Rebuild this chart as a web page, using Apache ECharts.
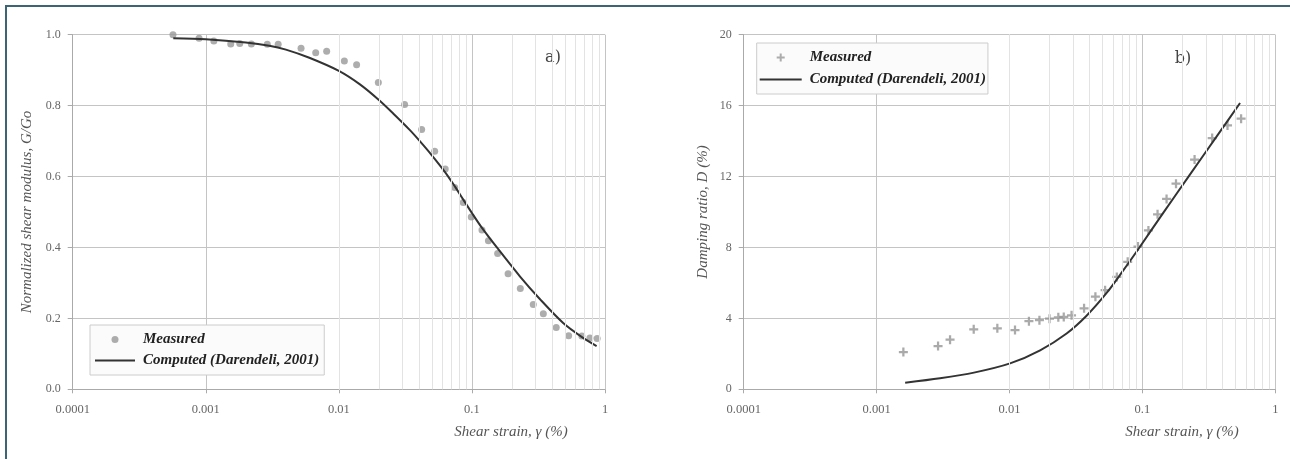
<!DOCTYPE html>
<html><head><meta charset="utf-8">
<script src="https://cdn.jsdelivr.net/npm/echarts@6/dist/echarts.min.js"></script>
<style>html,body{margin:0;padding:0;background:#fff}#c{width:1290px;height:459px}</style>
</head><body><div id="c"></div>
<script>
// ---- tick labels ----
const xTickLabels = ['0.0001', '0.001', '0.01', '0.1', '1'];
const gTickLabels = ['0.0', '0.2', '0.4', '0.6', '0.8', '1.0'];
const dTickLabels = ['0', '4', '8', '12', '16', '20'];
const minorFactors = [2, 3, 4, 5, 6, 7, 8, 9];
const decadeStarts = [0.0001, 0.001, 0.01, 0.1];

// ---- a) Normalized shear modulus ----
const gMeasX = [0.000567, 0.00089, 0.00115, 0.00154, 0.0018, 0.0022, 0.0029, 0.0035, 0.0052, 0.0067, 0.0081, 0.011, 0.0136, 0.0198, 0.0312, 0.0419, 0.0525, 0.063, 0.0742, 0.0861, 0.0989, 0.119, 0.133, 0.156, 0.187, 0.231, 0.289, 0.344, 0.430, 0.533, 0.67, 0.77, 0.873];
const gMeasY = [1.0, 0.990, 0.982, 0.974, 0.975, 0.974, 0.973, 0.973, 0.962, 0.949, 0.953, 0.926, 0.915, 0.865, 0.803, 0.733, 0.671, 0.621, 0.569, 0.527, 0.486, 0.449, 0.419, 0.383, 0.326, 0.284, 0.239, 0.213, 0.174, 0.151, 0.150, 0.145, 0.143];
const gCompX = [0.00057, 0.001, 0.002, 0.003, 0.004, 0.006, 0.01, 0.0144, 0.02, 0.0256, 0.0342, 0.0406, 0.05, 0.063, 0.0742, 0.0861, 0.1, 0.119, 0.154, 0.23, 0.325, 0.485, 0.667, 0.865];
const gCompY = [0.990, 0.987, 0.978, 0.969, 0.958, 0.935, 0.898, 0.860, 0.816, 0.778, 0.731, 0.700, 0.660, 0.612, 0.573, 0.535, 0.497, 0.455, 0.400, 0.318, 0.254, 0.187, 0.148, 0.122];

// ---- b) Damping ratio ----
const dMeasX = [0.00159, 0.0029, 0.00357, 0.00538, 0.0081, 0.011, 0.014, 0.0168, 0.0200, 0.0233, 0.0256, 0.0293, 0.0364, 0.0443, 0.0524, 0.0642, 0.0775, 0.0926, 0.111, 0.130, 0.152, 0.179, 0.247, 0.335, 0.437, 0.553];
const dMeasY = [2.10, 2.44, 2.80, 3.38, 3.44, 3.34, 3.84, 3.90, 3.98, 4.06, 4.08, 4.17, 4.57, 5.22, 5.59, 6.34, 7.19, 8.05, 8.96, 9.87, 10.74, 11.60, 12.96, 14.17, 14.88, 15.26];
const dCompX = [0.00164, 0.003, 0.0054, 0.0101, 0.017, 0.0269, 0.038, 0.054, 0.072, 0.095, 0.1435, 0.225, 0.369, 0.543];
const dCompY = [0.37, 0.62, 0.94, 1.46, 2.20, 3.15, 4.15, 5.45, 6.72, 8.00, 9.95, 12.05, 14.35, 16.15];

const zip = (xs, ys) => xs.map((x, i) => [x, ys[i]]);
const minorVals = decadeStarts.flatMap(d => minorFactors.map(f => +(d * f).toPrecision(3)));

const serif = '"Liberation Serif", "Times New Roman", serif';
const labelColor = '#666';
const titleStyle = { fontFamily: serif, fontStyle: 'italic', fontSize: 15, color: '#555' };

function xAxisCfg(gi) {
  return {
    type: 'log', gridIndex: gi, logBase: 10, min: 0.0001, max: 1,
    axisLine: { show: true, lineStyle: { color: '#aaa', width: 1 } },
    axisTick: { show: true, length: 4, lineStyle: { color: '#aaa' } },
    axisLabel: {
      show: true, margin: 14, fontFamily: serif, fontSize: 12.5, color: labelColor,
      formatter: v => xTickLabels[Math.round(Math.log10(v) + 4)]
    },
    splitLine: { show: true, lineStyle: { color: '#c4c4c4', width: 1 } },
    minorTick: { show: false }, minorSplitLine: { show: false }
  };
}
function yAxisCfg(gi, max, interval, labels, name, gap) {
  return {
    type: 'value', gridIndex: gi, min: 0, max: max, interval: interval,
    name: name, nameLocation: 'middle', nameGap: gap, nameTextStyle: titleStyle,
    axisLine: { show: true, lineStyle: { color: '#aaa', width: 1 } },
    axisTick: { show: true, length: 5, lineStyle: { color: '#aaa' } },
    axisLabel: {
      show: true, margin: 12, fontFamily: serif, fontSize: 12, color: labelColor,
      formatter: v => labels[Math.round(v / interval)]
    },
    splitLine: { show: true, lineStyle: { color: '#c4c4c4', width: 1 } }
  };
}
function minorGridSeries(gi) {
  return {
    type: 'line', xAxisIndex: gi, yAxisIndex: gi, data: [], z: 1, silent: true,
    markLine: {
      silent: true, symbol: ['none', 'none'], animation: false,
      label: { show: false },
      lineStyle: { color: '#e3e3e3', width: 1, type: 'solid' },
      emphasis: { disabled: true },
      data: minorVals.map(v => ({ xAxis: v }))
    }
  };
}

const circleIcon = 'path://M0,0 M40,14 M16.5,7 A3.5,3.5 0 1 1 23.5,7 A3.5,3.5 0 1 1 16.5,7 Z';
const lineIconL = 'path://M0,0 M40,14 M0,6 L40,6 L40,8 L0,8 Z';
const plusIcon = 'path://M0,0 M42,14 M20,3 L22,3 L22,6 L25,6 L25,8 L22,8 L22,11 L20,11 L20,8 L17,8 L17,6 L20,6 Z';
const lineIconR = 'path://M0,0 M42,14 M0,6 L42,6 L42,8 L0,8 Z';
const plusSymbol = 'path://M3,0 L5,0 L5,3 L8,3 L8,5 L5,5 L5,8 L3,8 L3,5 L0,5 L0,3 L3,3 Z';

const legendText = { fontFamily: serif, fontStyle: 'italic', fontWeight: 'bold', fontSize: 15, color: '#222', padding: [0, 0, 0, 3] };

const chart = echarts.init(document.getElementById('c'), null, { renderer: 'canvas' });
chart.setOption({
  animation: false,
  backgroundColor: '#ffffff',
  grid: [
    { left: 72.7, right: 685, top: 34.7, bottom: 69.7, containLabel: false, outerBoundsMode: 'none' },
    { left: 743.7, right: 14.7, top: 34.7, bottom: 69.7, containLabel: false, outerBoundsMode: 'none' }
  ],
  xAxis: [xAxisCfg(0), xAxisCfg(1)],
  yAxis: [
    yAxisCfg(0, 1, 0.2, gTickLabels, 'Normalized shear modulus, G/Go', 38),
    yAxisCfg(1, 20, 4, dTickLabels, 'Damping ratio, D (%)', 33)
  ],
  legend: [
    {
      orient: 'vertical', left: 90, top: 325, padding: [7, 5, 7, 5], itemWidth: 40, itemHeight: 15, itemGap: 6,
      backgroundColor: '#fbfbfb', borderColor: '#cccccc', borderWidth: 1, selectedMode: false,
      textStyle: legendText,
      data: [{ name: 'Measured', icon: circleIcon }, { name: 'Computed (Darendeli, 2001)', icon: lineIconL }]
    },
    {
      orient: 'vertical', left: 756.7, top: 43, padding: [7, 2, 7, 3], itemWidth: 42, itemHeight: 15, itemGap: 7,
      backgroundColor: '#fbfbfb', borderColor: '#cccccc', borderWidth: 1, selectedMode: false,
      textStyle: legendText,
      data: [{ name: 'Measured', icon: plusIcon }, { name: 'Computed (Darendeli, 2001)', icon: lineIconR }]
    }
  ],
  series: [
    minorGridSeries(0),
    minorGridSeries(1),
    {
      name: 'Measured', type: 'scatter', xAxisIndex: 0, yAxisIndex: 0, z: 3,
      symbol: 'circle', symbolSize: 7, itemStyle: { color: '#999999' },
      data: zip(gMeasX, gMeasY)
    },
    {
      name: 'Computed (Darendeli, 2001)', type: 'line', xAxisIndex: 0, yAxisIndex: 0, z: 4,
      smooth: 0.3, showSymbol: false, symbol: 'none', color: '#333333',
      lineStyle: { color: '#333333', width: 2 }, itemStyle: { color: '#333333' },
      data: zip(gCompX, gCompY)
    },
    {
      name: 'Measured', type: 'scatter', xAxisIndex: 1, yAxisIndex: 1, z: 3,
      symbol: plusSymbol, symbolSize: 9, itemStyle: { color: '#959595' },
      data: zip(dMeasX, dMeasY)
    },
    {
      name: 'Computed (Darendeli, 2001)', type: 'line', xAxisIndex: 1, yAxisIndex: 1, z: 4,
      smooth: 0.3, showSymbol: false, symbol: 'none', color: '#333333',
      lineStyle: { color: '#333333', width: 2 }, itemStyle: { color: '#333333' },
      data: zip(dCompX, dCompY)
    }
  ],
  graphic: [
    { type: 'polyline', silent: true, shape: { points: [[6, 459], [6, 6], [1290, 6]] }, style: { stroke: '#3b6476', lineWidth: 2, fill: null } },
    { type: 'text', silent: true, style: { text: 'a)', x: 553, y: 58, align: 'center', verticalAlign: 'middle', fontFamily: '"DejaVu Serif", serif', fontSize: 16, fill: '#444' } },
    { type: 'text', silent: true, style: { text: 'b)', x: 1183, y: 59, align: 'center', verticalAlign: 'middle', fontFamily: '"DejaVu Serif", serif', fontSize: 16, fill: '#444' } },
    { type: 'text', silent: true, style: { text: 'Shear strain, γ (%)', x: 511, y: 432, align: 'center', verticalAlign: 'middle', fontFamily: serif, fontStyle: 'italic', fontSize: 15, fill: '#555' } },
    { type: 'text', silent: true, style: { text: 'Shear strain, γ (%)', x: 1182, y: 432, align: 'center', verticalAlign: 'middle', fontFamily: serif, fontStyle: 'italic', fontSize: 15, fill: '#555' } }
  ]
});
</script>
</body></html>
